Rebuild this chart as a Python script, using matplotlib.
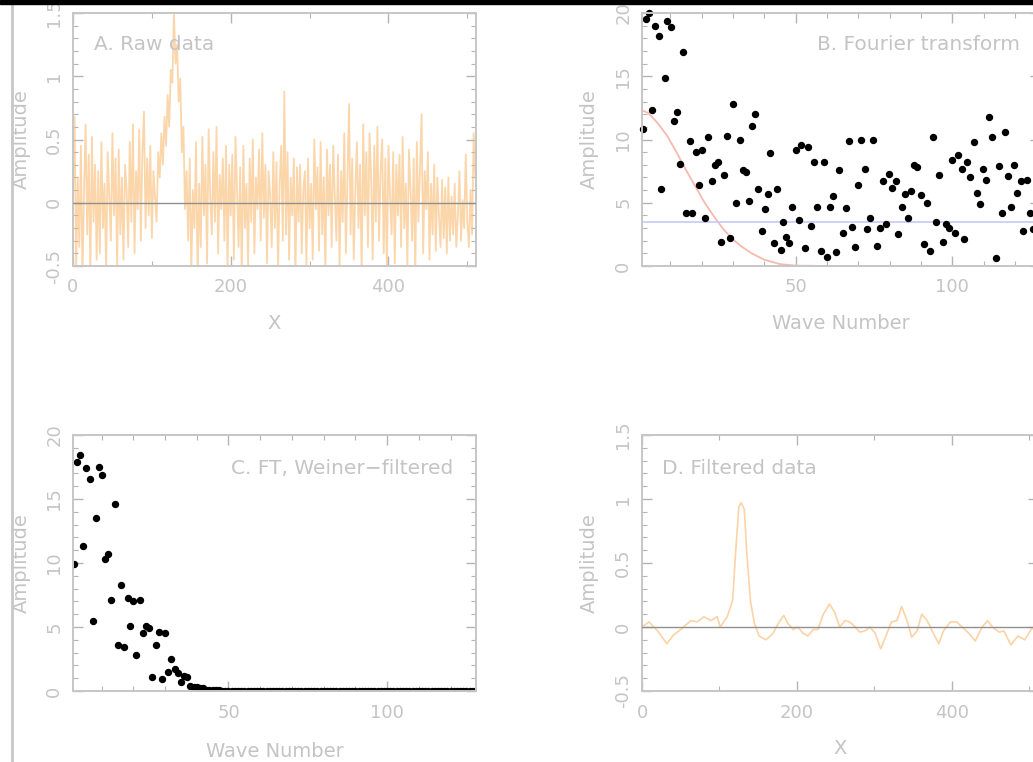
import numpy as np
import matplotlib
matplotlib.use("Agg")
import matplotlib.pyplot as plt
from matplotlib.lines import Line2D
from matplotlib.patches import Rectangle
from matplotlib.ticker import FuncFormatter, MultipleLocator

W, H = 1033, 762
TEXT = "#c4c4c4"
SPINE = "#c6c6c6"
TICK = "#b4b4b4"

# --- A. raw data (x step 2) ---
raw_y = [
    0.05, 0.68, -0.55, 0.20, -0.35, 0.45, -0.60, 0.10, 0.62, -0.25, 0.38, -0.58, 0.52, -0.15, 0.30, -0.45,
    0.25, -0.40, 0.48, -0.20, 0.15, -0.55, 0.40, 0.05, -0.30, 0.55, -0.10, 0.35, -0.52, 0.42, -0.25, 0.20,
    -0.45, 0.30, 0.10, -0.35, 0.48, -0.15, 0.62, -0.40, 0.25, -0.05, 0.58, -0.30, 0.40, 0.72, -0.20, 0.35,
    -0.10, 0.45, -0.28, 0.25, 0.05, -0.15, 0.40, 0.20, 0.55, 0.30, 0.68, 0.45, 0.85, 0.60, 1.05, 0.95,
    1.50, 1.10, 1.25, 0.80, 0.98, 0.40, 0.60, -0.05, 0.25, -0.30, 0.35, -0.55, 0.10, -0.20, 0.48, -0.62,
    0.15, -0.35, 0.52, -0.10, 0.30, -0.48, 0.58, 0.05, -0.25, 0.40, -0.15, 0.60, -0.40, 0.22, -0.05, 0.35,
    -0.30, 0.45, -0.55, 0.30, -0.10, 0.38, -0.45, 0.52, 0.10, -0.35, 0.28, -0.60, 0.45, -0.20, 0.15, -0.50,
    0.35, -0.15, 0.50, -0.40, 0.20, -0.05, 0.42, -0.30, 0.55, -0.12, 0.30, -0.48, 0.25, 0.05, -0.35, 0.40,
    -0.20, 0.32, -0.55, 0.15, 0.45, -0.30, 0.88, -0.25, 0.40, -0.45, 0.20, -0.10, 0.35, -0.58, 0.28, -0.15,
    0.30, -0.40, 0.10, 0.25, -0.50, 0.35, -0.20, 0.15, -0.45, 0.50, -0.05, 0.28, -0.38, 0.48, -0.25, 0.20,
    -0.55, 0.42, -0.10, 0.30, -0.35, 0.45, 0.05, -0.30, 0.38, -0.50, 0.25, -0.15, 0.55, -0.40, 0.20, 0.78,
    -0.25, 0.35, -0.45, 0.10, 0.48, -0.20, 0.30, -0.58, 0.62, -0.10, 0.40, -0.35, 0.55, 0.20, -0.45, 0.45,
    -0.15, 0.60, -0.30, 0.25, 0.50, -0.40, 0.35, -0.55, 0.45, 0.05, -0.25, 0.40, -0.48, 0.30, -0.10, 0.38,
    -0.35, 0.52, -0.20, 0.15, -0.50, 0.42, 0.10, -0.30, 0.35, -0.58, 0.48, -0.15, 0.28, 0.70, -0.40, 0.25,
    -0.05, 0.40, -0.45, 0.15, -0.25, 0.30, -0.38, 0.20, -0.10, -0.35, 0.18, -0.28, 0.12, -0.40, 0.20, -0.30,
    0.05, -0.25, 0.15, -0.35, -0.10, 0.25, -0.30, 0.02, -0.20, 0.38, -0.15, -0.35, 0.10, -0.25, 0.55, 0.20,
]
raw_x = np.arange(len(raw_y)) * 2

# --- B. Fourier transform amplitudes ---
ft_k = [1.2, 2.3, 3.1, 4.2, 5.2, 6.3, 7.2, 8.2, 9.1, 10.3, 11.1, 12.1, 13.1, 14.1, 15.1, 16.2, 17.1, 18.3,
        19.1, 20.1, 21.2, 22.2, 23.2, 24.2, 25.1, 26.1, 27.3, 28.2, 29.2, 30.0, 31.1, 32.2, 33.2, 34.2, 35.0,
        36.0, 37.1, 38.1, 39.2, 40.1, 41.1, 42.0, 43.1, 44.1, 45.2, 46.1, 46.9, 48.0, 49.0, 50.0, 51.1, 51.8,
        52.9, 53.9, 55.0, 56.0, 56.9, 58.0, 59.0, 60.1, 61.0, 61.9, 62.9, 64.0, 65.0, 66.1, 67.0, 67.9, 68.9,
        69.9, 70.9, 72.0, 72.9, 73.9, 74.8, 75.9, 76.9, 77.8, 78.9, 79.8, 80.9, 81.9, 82.8, 83.9, 84.9, 85.9,
        86.9, 87.9, 88.9, 89.9, 90.9, 91.9, 92.9, 93.8, 94.9, 95.9, 96.9, 97.9, 98.9, 99.8, 100.9, 101.9,
        103.0, 103.9, 104.8, 105.8, 106.8, 107.8, 108.8, 109.8, 110.8, 111.8, 112.8, 113.9, 114.9, 115.8,
        116.8, 117.7, 118.8, 119.7, 120.8, 121.8, 122.7, 123.8, 124.7, 125.8]
ft_amp = [10.8, 19.5, 20.0, 12.3, 19.0, 18.2, 6.1, 14.9, 19.4, 18.9, 11.5, 12.2, 8.1, 16.9, 4.2, 9.9, 4.2, 9.0,
          6.4, 9.2, 3.8, 10.2, 6.7, 8.0, 8.2, 1.9, 7.2, 10.3, 2.2, 12.8, 5.0, 10.0, 7.6, 7.4, 5.1,
          11.1, 12.0, 6.1, 2.8, 4.5, 5.7, 8.9, 1.8, 6.1, 1.3, 3.5, 2.3, 1.8, 4.7, 9.2, 3.6, 9.6,
          1.4, 9.4, 3.2, 8.2, 4.7, 1.2, 8.2, 0.7, 4.7, 5.5, 1.1, 7.6, 2.6, 4.6, 9.9, 3.1, 1.5,
          6.4, 10.0, 7.7, 2.9, 3.8, 10.0, 1.6, 3.0, 6.7, 3.3, 7.3, 6.2, 6.7, 2.5, 4.7, 5.7, 3.8,
          5.9, 8.0, 7.8, 5.6, 1.7, 5.0, 1.2, 10.2, 3.5, 7.2, 1.9, 3.3, 3.0, 8.4, 2.6, 8.8,
          7.7, 2.1, 8.2, 7.0, 9.8, 5.8, 4.9, 7.7, 6.8, 11.8, 10.2, 0.6, 7.9, 4.2,
          10.6, 7.1, 4.7, 8.0, 5.8, 6.7, 2.8, 6.8, 4.2, 2.9]

# red model curve and blue noise level in panel B
model_k = [1, 3, 6, 9, 12, 15, 18, 21, 24, 27, 30, 33, 36, 40, 45, 50, 60, 128]
model_amp = [12.3, 12.1, 11.3, 10.3, 9.0, 7.6, 6.3, 5.0, 3.9, 2.9, 2.1, 1.5, 1.0, 0.5, 0.15, 0.03, 0.0, 0.0]
noise_level = 3.45

# --- C. Wiener-filtered FT ---
filt_k = [1.2, 2.2, 3.1, 4.2, 5.2, 6.2, 7.3, 8.2, 9.1, 10.2, 11.1, 12.1, 13.1, 14.1, 15.1, 16.1, 17.1, 18.2,
          19.0, 20.0, 21.0, 22.1, 23.0, 24.0, 24.9, 26.0, 27.0, 28.1, 29.0, 30.0, 31.0, 31.9, 33.0, 34.0,
          34.9, 35.9, 37.0, 37.9, 39.0, 40.0, 41.0, 42.0, 43.0]
filt_amp = [9.9, 17.9, 18.4, 11.3, 17.4, 16.6, 5.5, 13.5, 17.5, 16.9, 10.3, 10.7, 7.1, 14.6, 3.6, 8.3, 3.4, 7.3,
            5.1, 7.0, 2.8, 7.1, 4.5, 5.1, 4.9, 1.1, 3.6, 4.6, 0.9, 4.5, 1.5, 2.5, 1.7, 1.4,
            0.7, 1.2, 1.1, 0.4, 0.3, 0.3, 0.25, 0.2, 0.1]
tail_k = np.arange(44, 129)
tail_amp = [0.08, 0.06, 0.05, 0.04, 0.03, 0.02, 0.02, 0.01, 0.01, 0.01, 0.01, 0.0, 0.0, 0.0, 0.0, 0.0, 0.0] + [0.0] * 68

# --- D. filtered data ---
smooth_x = [0, 9, 20, 32, 41, 50, 63, 71, 80, 89, 97, 101, 110, 117, 121, 125, 128, 132, 135, 140, 145, 151,
            160, 169, 177, 183, 188, 195, 201, 208, 214, 221, 227, 234, 242, 249, 255, 262, 268, 275, 281,
            288, 294, 301, 308, 316, 322, 329, 335, 342, 348, 355, 361, 368, 376, 383, 389, 398, 406, 413,
            422, 430, 439, 446, 452, 461, 467, 476, 485, 494, 502, 511]
smooth_y = [0.0, 0.04, -0.03, -0.13, -0.06, -0.02, 0.05, 0.04, 0.08, 0.05, 0.08, 0.0, 0.08, 0.21, 0.6, 0.94,
            0.97, 0.92, 0.6, 0.2, 0.03, -0.07, -0.1, -0.05, 0.04, 0.09, 0.03, -0.02, 0.0, -0.05, -0.07,
            -0.02, -0.02, 0.1, 0.18, 0.11, 0.0, 0.05, 0.04, 0.0, -0.04, -0.03, 0.0, -0.05, -0.17, -0.05,
            0.04, 0.05, 0.16, 0.05, -0.08, -0.03, 0.1, 0.05, -0.05, -0.13, -0.03, 0.04, 0.04, 0.0, -0.05,
            -0.11, 0.0, 0.05, 0.0, -0.04, -0.03, -0.14, -0.07, -0.1, -0.02, 0.02]


def box(left, top, right, bottom):
    return [left / W, 1 - bottom / H, (right - left) / W, (bottom - top) / H]


def style(ax, xmaj, xmin, ymaj, ymin):
    ax.xaxis.set_major_locator(MultipleLocator(xmaj))
    ax.xaxis.set_minor_locator(MultipleLocator(xmin))
    ax.yaxis.set_major_locator(MultipleLocator(ymaj))
    ax.yaxis.set_minor_locator(MultipleLocator(ymin))
    fmt = FuncFormatter(lambda v, p: f"{v:g}")
    ax.xaxis.set_major_formatter(fmt)
    ax.yaxis.set_major_formatter(fmt)
    ax.tick_params(which="both", direction="in", top=True, right=True, color=TICK,
                   labelcolor=TEXT, labelsize=13)
    ax.tick_params(which="major", length=7, width=1)
    ax.tick_params(which="minor", length=3.5, width=0.8)
    ax.tick_params(axis="x", pad=9)
    ax.tick_params(axis="y", pad=7, labelrotation=90)
    for lbl in ax.get_yticklabels():
        lbl.set_va("center")
    for s in ax.spines.values():
        s.set_color(SPINE)
        s.set_linewidth(1.4)


def labels(ax, xlabel, height_px, width_px, xlab_gap, ylab_gap):
    ax.set_xlabel(xlabel, color=TEXT, fontsize=14)
    ax.xaxis.set_label_coords(0.5, -xlab_gap / height_px)
    ax.set_ylabel("Amplitude", color=TEXT, fontsize=14)
    ax.yaxis.set_label_coords(-ylab_gap / width_px, 0.5)


fig = plt.figure(figsize=(W / 100, H / 100), dpi=100)

# A
ax = fig.add_axes(box(73, 13, 476, 266))
ax.plot(raw_x, raw_y, color="#f9b565", lw=1.3, alpha=0.55)
ax.axhline(0, color="#909090", lw=1, zorder=3)
ax.set_xlim(0, 511)
ax.set_ylim(-0.5, 1.5)
style(ax, 200, 100, 0.5, 0.1)
labels(ax, "X", 253, 403, 48, 42)
ax.text(0.052, 0.874, "A. Raw data", transform=ax.transAxes, color=TEXT, fontsize=14.5, va="center")

# B
ax = fig.add_axes(box(642, 13, 1040, 266))
ax.plot(model_k, model_amp, color="#f6b9b0", lw=1.3)
ax.axhline(noise_level, color="#c9cff5", lw=1.3)
ax.plot(ft_k, ft_amp, "o", color="black", ms=4.3, clip_on=False)
ax.set_xlim(1, 128)
ax.set_ylim(0, 20)
style(ax, 50, 10, 5, 1)
labels(ax, "Wave Number", 253, 398, 48, 43)
ax.text(0.44, 0.874, "B. Fourier transform", transform=ax.transAxes, color=TEXT, fontsize=14.5, va="center")

# C
ax = fig.add_axes(box(73, 435, 476, 691))
ax.plot(filt_k, filt_amp, "o", color="black", ms=4.3)
ax.plot(tail_k, tail_amp, "o", color="black", ms=4.3)
ax.set_xlim(1, 128)
ax.set_ylim(0, 20)
style(ax, 50, 10, 5, 1)
labels(ax, "Wave Number", 256, 403, 51, 42)
ax.text(0.943, 0.871, "C. FT, Weiner\u2212filtered", transform=ax.transAxes, color=TEXT, fontsize=14.5,
        va="center", ha="right")

# D
ax = fig.add_axes(box(642, 435, 1038, 691))
ax.plot(smooth_x, smooth_y, color="#fbd3a6", lw=1.2)
ax.axhline(0, color="#909090", lw=1, zorder=3)
ax.set_xlim(0, 511)
ax.set_ylim(-0.5, 1.5)
style(ax, 200, 100, 0.5, 0.1)
labels(ax, "X", 256, 396, 48, 43)
ax.text(0.05, 0.871, "D. Filtered data", transform=ax.transAxes, color=TEXT, fontsize=14.5, va="center")

# screenshot frame: black strip on top, grey rule on the left
fig.add_artist(Rectangle((0, 1 - 4 / H), 1, 4 / H, transform=fig.transFigure, color="black", zorder=10))
fig.add_artist(Line2D([12 / W, 12 / W], [0, 1 - 4 / H], transform=fig.transFigure, color="#c8c8c8", lw=2))

fig.savefig("out.png", dpi=100)
